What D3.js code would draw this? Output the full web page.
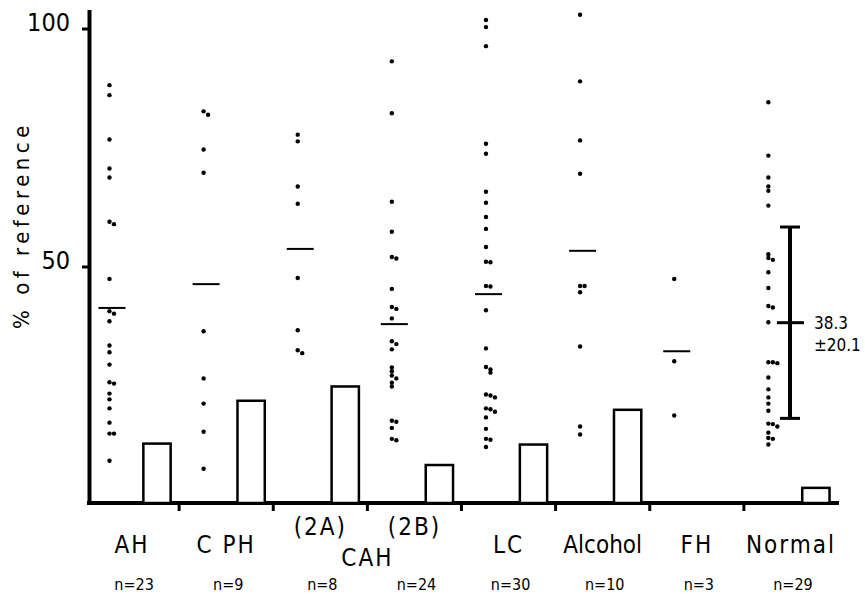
<!DOCTYPE html>
<html>
<head>
<meta charset="utf-8">
<script src="https://cdn.jsdelivr.net/npm/d3@7"></script>
<style>
  body { margin: 0; background: #fff; }
  svg { display: block; font-family: "Liberation Sans Narrow", "DejaVu Sans Condensed", "Liberation Sans", sans-serif; }
  .dot { fill: #000; }
  .bar { fill: #fff; stroke: #000; stroke-width: 2.5; }
  .mean { stroke: #000; stroke-width: 2; }
  .group-label { font-size: 24px; }
  .n-label { font-size: 16px; }
</style>
</head>
<body>
<svg id="chart" width="865" height="600"></svg>
<script>
// groups along the x axis
var groups = ["AH", "CPH", "2A", "2B", "LC", "Alcohol", "FH", "Normal"];
var groupLabels = ["AH", "C PH", "(2A)", "(2B)", "LC", "Alcohol", "FH", "Normal"];
var nLabels = ["n=23", "n=9", "n=8", "n=24", "n=30", "n=10", "n=3", "n=29"];

// individual values, % of reference
var ahValues = [88.2, 86.1, 76.8, 70.7, 68.8, 59.5, 59.0, 47.5, 40.7, 40.2, 38.6, 33.5, 32.1, 29.5,
                25.8, 25.5, 23.4, 22.2, 20.3, 17.3, 15.0, 15.0, 9.3];
var cphValues = [82.7, 82.0, 74.7, 69.8, 36.5, 26.6, 21.3, 15.4, 7.6];
var cah2aValues = [77.8, 76.4, 66.9, 63.3, 47.7, 36.7, 32.5, 31.9];
var cah2bValues = [93.2, 82.3, 63.7, 57.4, 52.1, 51.8, 45.4, 41.6, 41.2, 39.2, 34.4, 33.8, 32.7,
                   28.9, 28.1, 27.2, 26.6, 25.7, 24.9, 17.7, 17.5, 16.2, 13.9, 13.6];
var lcValues = [101.9, 100.4, 96.4, 75.9, 73.8, 65.8, 63.5, 60.5, 58.0, 54.2, 51.1, 51.0, 46.0, 45.9,
                40.9, 32.9, 29.0, 28.5, 27.8, 23.2, 23.0, 22.6, 20.3, 20.1, 19.6, 18.4, 16.0, 13.9, 13.7, 12.2];
var alcoholValues = [103.0, 89.0, 76.6, 69.6, 46.0, 46.0, 44.7, 33.3, 16.5, 14.8];
var fhValues = [47.5, 30.2, 18.8];
var normalValues = [84.6, 73.4, 68.8, 66.9, 66.0, 62.9, 52.7, 51.9, 51.5, 48.9, 45.6, 41.8, 41.5, 38.4,
                    30.0, 30.0, 29.8, 26.8, 24.3, 22.6, 21.3, 19.8, 17.1, 17.0, 16.5, 15.2, 14.1, 13.9, 12.7];

// group means (short horizontal lines), null = none drawn
var meanValues = [41.4, 46.4, 53.8, 38.0, 44.3, 53.4, 32.3, null];
// open bars
var barValues = [12.9, 21.9, 24.9, 8.4, 12.7, 20.0, 0, 3.6];
// normal range
var normalMean = 38.3;
var normalSD = 20.1;

var yTicks = [50, 100];

var allValues = [ahValues, cphValues, cah2aValues, cah2bValues, lcValues, alcoholValues, fhValues, normalValues];

var svg = d3.select("#chart");

var x = d3.scaleBand().domain(groups).range([85, 838]);
var y = d3.scaleLinear().domain([0, 100]).range([505, 29]);
var bw = x.bandwidth();

// dot column inside each band
function dotX(g) { return x(g) + bw * 0.26; }

// y axis
svg.append("line")
   .attr("x1", 89.5).attr("x2", 89.5)
   .attr("y1", 10).attr("y2", 505)
   .attr("stroke", "#000")
   .attr("stroke-width", 4);

svg.selectAll(".ytick")
   .data(yTicks)
   .enter().append("line")
   .attr("x1", 82).attr("x2", 89)
   .attr("y1", function(d) { return y(d); })
   .attr("y2", function(d) { return y(d); })
   .attr("stroke", "#000")
   .attr("stroke-width", 3);

svg.selectAll(".ylabel")
   .data(yTicks)
   .enter().append("text")
   .attr("x", 70)
   .attr("y", function(d) { return y(d) + 2; })
   .attr("text-anchor", "end")
   .attr("font-size", 25)
   .text(function(d) { return d; });

svg.append("text")
   .attr("transform", "translate(29,225) rotate(-90)")
   .attr("text-anchor", "middle")
   .attr("font-size", 22)
   .attr("letter-spacing", 4.5)
   .text("% of reference");

// x axis baseline with ticks between groups
svg.append("line")
   .attr("x1", 87).attr("x2", 839)
   .attr("y1", 503).attr("y2", 503)
   .attr("stroke", "#000")
   .attr("stroke-width", 4);

svg.selectAll(".xtick")
   .data(groups.slice(1))
   .enter().append("line")
   .attr("x1", function(d) { return x(d); })
   .attr("x2", function(d) { return x(d); })
   .attr("y1", 503).attr("y2", 511)
   .attr("stroke", "#000")
   .attr("stroke-width", 3);

// bars
svg.selectAll(".bar")
   .data(groups.filter(function(g, i) { return barValues[i] > 0; }))
   .enter().append("rect")
   .attr("class", "bar")
   .attr("x", function(g) { return x(g) + bw * 0.62; })
   .attr("width", bw * 0.29)
   .attr("y", function(g) { return y(barValues[groups.indexOf(g)]); })
   .attr("height", function(g) { return y(0) - 2 - y(barValues[groups.indexOf(g)]); });

// dots, nudging near-duplicates sideways
groups.forEach(function(g, i) {
  var vals = allValues[i];
  var pts = [];
  vals.forEach(function(v) {
    var k = pts.filter(function(p) { return Math.abs(y(p.v) - y(v)) < 3.5; }).length;
    pts.push({ v: v, dx: k * 4.5 });
  });
  svg.selectAll(".dot-" + i)
     .data(pts)
     .enter().append("circle")
     .attr("class", "dot")
     .attr("cx", function(d) { return dotX(g) + d.dx; })
     .attr("cy", function(d) { return y(d.v); })
     .attr("r", 2.2);
});

// mean lines
svg.selectAll(".mean")
   .data(groups.filter(function(g, i) { return meanValues[i] != null; }))
   .enter().append("line")
   .attr("class", "mean")
   .attr("x1", function(g) { return dotX(g) - 11; })
   .attr("x2", function(g) { return dotX(g) + 16; })
   .attr("y1", function(g) { return y(meanValues[groups.indexOf(g)]); })
   .attr("y2", function(g) { return y(meanValues[groups.indexOf(g)]); });

// normal mean +/- SD
var ex = x("Normal") + bw * 0.49;
var eb = svg.append("g").attr("stroke", "#000");
eb.append("line")
  .attr("x1", ex).attr("x2", ex)
  .attr("y1", y(normalMean + normalSD)).attr("y2", y(normalMean - normalSD))
  .attr("stroke-width", 4);
[normalMean + normalSD, normalMean - normalSD].forEach(function(v) {
  eb.append("line")
    .attr("x1", ex - 10).attr("x2", ex + 10)
    .attr("y1", y(v)).attr("y2", y(v))
    .attr("stroke-width", 3);
});
eb.append("line")
  .attr("x1", ex - 13).attr("x2", ex + 14)
  .attr("y1", y(normalMean)).attr("y2", y(normalMean))
  .attr("stroke-width", 3);

svg.append("text")
   .attr("x", ex + 24)
   .attr("y", y(normalMean) + 6)
   .attr("font-size", 17)
   .text(normalMean.toFixed(1));
svg.append("text")
   .attr("x", ex + 24)
   .attr("y", y(normalMean) + 28)
   .attr("font-size", 17)
   .text("\u00b1" + normalSD.toFixed(1));

// category labels
svg.selectAll(".group-label")
   .data(groups)
   .enter().append("text")
   .attr("class", "group-label")
   .attr("x", function(g) { return x(g) + bw / 2; })
   .attr("y", function(g) { return (g === "2A" || g === "2B") ? 535 : 553; })
   .attr("text-anchor", "middle")
   .attr("letter-spacing", function(g) { return g === "Alcohol" ? 0 : 2; })
   .text(function(g, i) { return groupLabels[i]; });

svg.append("text")
   .attr("class", "group-label")
   .attr("x", x("2B"))
   .attr("y", 566)
   .attr("text-anchor", "middle")
   .attr("letter-spacing", 2)
   .text("CAH");

svg.selectAll(".n-label")
   .data(groups)
   .enter().append("text")
   .attr("class", "n-label")
   .attr("x", function(g) { return x(g) + bw / 2 + 2; })
   .attr("y", 590)
   .attr("text-anchor", "middle")
   .text(function(g, i) { return nLabels[i]; });
</script>
</body>
</html>
